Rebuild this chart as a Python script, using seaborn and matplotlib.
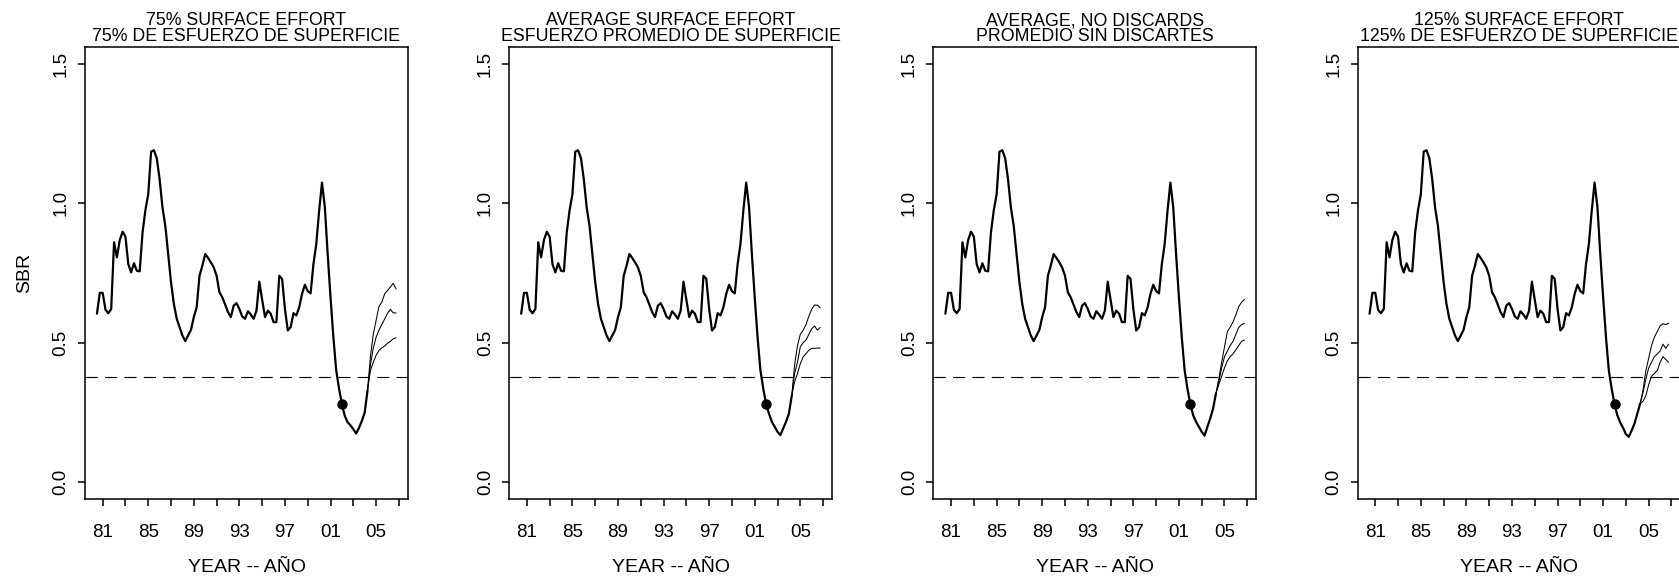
import numpy as np
import matplotlib
matplotlib.use("Agg")
import matplotlib.pyplot as plt
import seaborn as sns

# ---- data ----
# quarterly time axis in decimal years
quarters = 1980.5 + 0.25 * np.arange(106)

# spawning biomass ratio, estimated part (shared by all panels)
sbr_hist = [0.604, 0.679, 0.679, 0.618, 0.606, 0.621, 0.860, 0.806, 0.868, 0.898,
            0.880, 0.782, 0.752, 0.785, 0.758, 0.756, 0.895, 0.975, 1.032, 1.185,
            1.190, 1.161, 1.086, 0.985, 0.919, 0.818, 0.717, 0.639, 0.586, 0.556,
            0.526, 0.506, 0.526, 0.546, 0.592, 0.627, 0.740, 0.776, 0.818, 0.804,
            0.788, 0.770, 0.740, 0.681, 0.663, 0.637, 0.610, 0.592, 0.633, 0.642,
            0.621, 0.594, 0.586, 0.613, 0.601, 0.586, 0.615, 0.719, 0.654, 0.592,
            0.615, 0.604, 0.574, 0.574, 0.740, 0.729, 0.621, 0.544, 0.556, 0.606,
            0.598, 0.627, 0.675, 0.708, 0.685, 0.677, 0.782, 0.854, 0.973, 1.074,
            0.987, 0.818, 0.663, 0.520, 0.401, 0.335, 0.280]

titles = ["75% SURFACE EFFORT\n75% DE ESFUERZO DE SUPERFICIE",
          "AVERAGE SURFACE EFFORT\nESFUERZO PROMEDIO DE SUPERFICIE",
          "AVERAGE, NO DISCARDS\nPROMEDIO SIN DISCARTES",
          "125% SURFACE EFFORT\n125% DE ESFUERZO DE SUPERFICIE"]

# projected median, common part (next 9 quarters)
proj_common = [
    [0.238, 0.215, 0.204, 0.190, 0.175, 0.195, 0.220, 0.250, 0.330],
    [0.246, 0.217, 0.199, 0.181, 0.169, 0.193, 0.217, 0.246, 0.310],
    [0.240, 0.217, 0.199, 0.181, 0.167, 0.199, 0.229, 0.264, 0.318],
    [0.240, 0.214, 0.195, 0.172, 0.163, 0.185, 0.210, 0.246, 0.282],
]
# projection fan, last 10 quarters: upper, median, lower
proj_upper = [
    [0.45, 0.53, 0.58, 0.63, 0.645, 0.675, 0.687, 0.700, 0.713, 0.693],
    [0.42, 0.49, 0.53, 0.545, 0.565, 0.595, 0.620, 0.635, 0.635, 0.625],
    [0.37, 0.43, 0.485, 0.54, 0.556, 0.575, 0.600, 0.630, 0.645, 0.655],
    [0.33, 0.40, 0.445, 0.49, 0.520, 0.540, 0.560, 0.568, 0.565, 0.570],
]
proj_mid = [
    [0.42, 0.48, 0.52, 0.545, 0.565, 0.585, 0.605, 0.620, 0.607, 0.607],
    [0.39, 0.43, 0.485, 0.50, 0.510, 0.530, 0.550, 0.560, 0.545, 0.555],
    [0.36, 0.41, 0.45, 0.47, 0.490, 0.505, 0.530, 0.555, 0.565, 0.570],
    [0.32, 0.37, 0.41, 0.43, 0.450, 0.460, 0.470, 0.495, 0.480, 0.495],
]
proj_lower = [
    [0.40, 0.43, 0.455, 0.472, 0.482, 0.488, 0.498, 0.505, 0.514, 0.518],
    [0.36, 0.39, 0.425, 0.449, 0.461, 0.473, 0.480, 0.480, 0.481, 0.481],
    [0.35, 0.38, 0.41, 0.435, 0.450, 0.460, 0.475, 0.490, 0.505, 0.510],
    [0.29, 0.31, 0.35, 0.38, 0.390, 0.400, 0.430, 0.450, 0.440, 0.430],
]
sbr_msy = 0.377

year_ticks = list(range(1981, 2008, 2))
year_labels = [f"{y % 100:02d}" if i % 2 == 0 else "" for i, y in enumerate(year_ticks)]

# ---- figure ----
sns.set_style("ticks")
plt.rcParams['font.family'] = ['Liberation Sans', 'DejaVu Sans']
plt.rcParams.update({"text.color": "black", "axes.labelcolor": "black",
                     "xtick.color": "black", "ytick.color": "black",
                     "axes.edgecolor": "black"})

W, H = 1679, 579
fig = plt.figure(figsize=(W / 100, H / 100), dpi=100)

n_hist = len(sbr_hist)
for i in range(4):
    left = 85 + 424.2 * i
    ax = fig.add_axes([left / W, 1 - 499 / H, 323 / W, 452 / H])

    main_y = sbr_hist + proj_common[i]
    main_x = quarters[:len(main_y)]
    sns.lineplot(x=main_x, y=main_y, ax=ax, color="black", lw=1.6,
                 estimator=None, sort=False)
    fan_x = quarters[len(main_y) - 1:]
    for fan in (proj_upper[i], proj_mid[i], proj_lower[i]):
        sns.lineplot(x=fan_x, y=[main_y[-1]] + fan, ax=ax, color="black",
                     lw=0.75, estimator=None, sort=False)
    ax.plot(quarters[n_hist - 1], sbr_hist[-1], "o", color="black", ms=6.5)
    ax.axhline(sbr_msy, color="black", lw=0.8, dashes=(11, 6.5))

    ax.set_xlim(1979.45, 2007.8)
    ax.set_ylim(-0.06, 1.56)
    ax.set_xticks(year_ticks)
    ax.set_xticklabels(year_labels)
    ax.set_yticks([0.0, 0.5, 1.0, 1.5])
    ax.set_yticklabels(["0.0", "0.5", "1.0", "1.5"], rotation=90, va="center")
    ax.tick_params(axis="x", length=5, width=1.1, pad=13, labelsize=13.5)
    ax.tick_params(axis="y", length=5, width=1.1, pad=6, labelsize=13.5)
    for sp in ax.spines.values():
        sp.set_visible(True)
        sp.set_linewidth(1.1)
        sp.set_color("black")
    ax.set_title(titles[i], fontsize=12.8, linespacing=0.95, pad=4, color="black")
    ax.set_xlabel("YEAR -- AÑO", fontsize=14, labelpad=13)
    if i == 0:
        ax.set_ylabel("SBR", fontsize=14, labelpad=14)
    else:
        ax.set_ylabel("")

fig.savefig("out.png", dpi=100)
